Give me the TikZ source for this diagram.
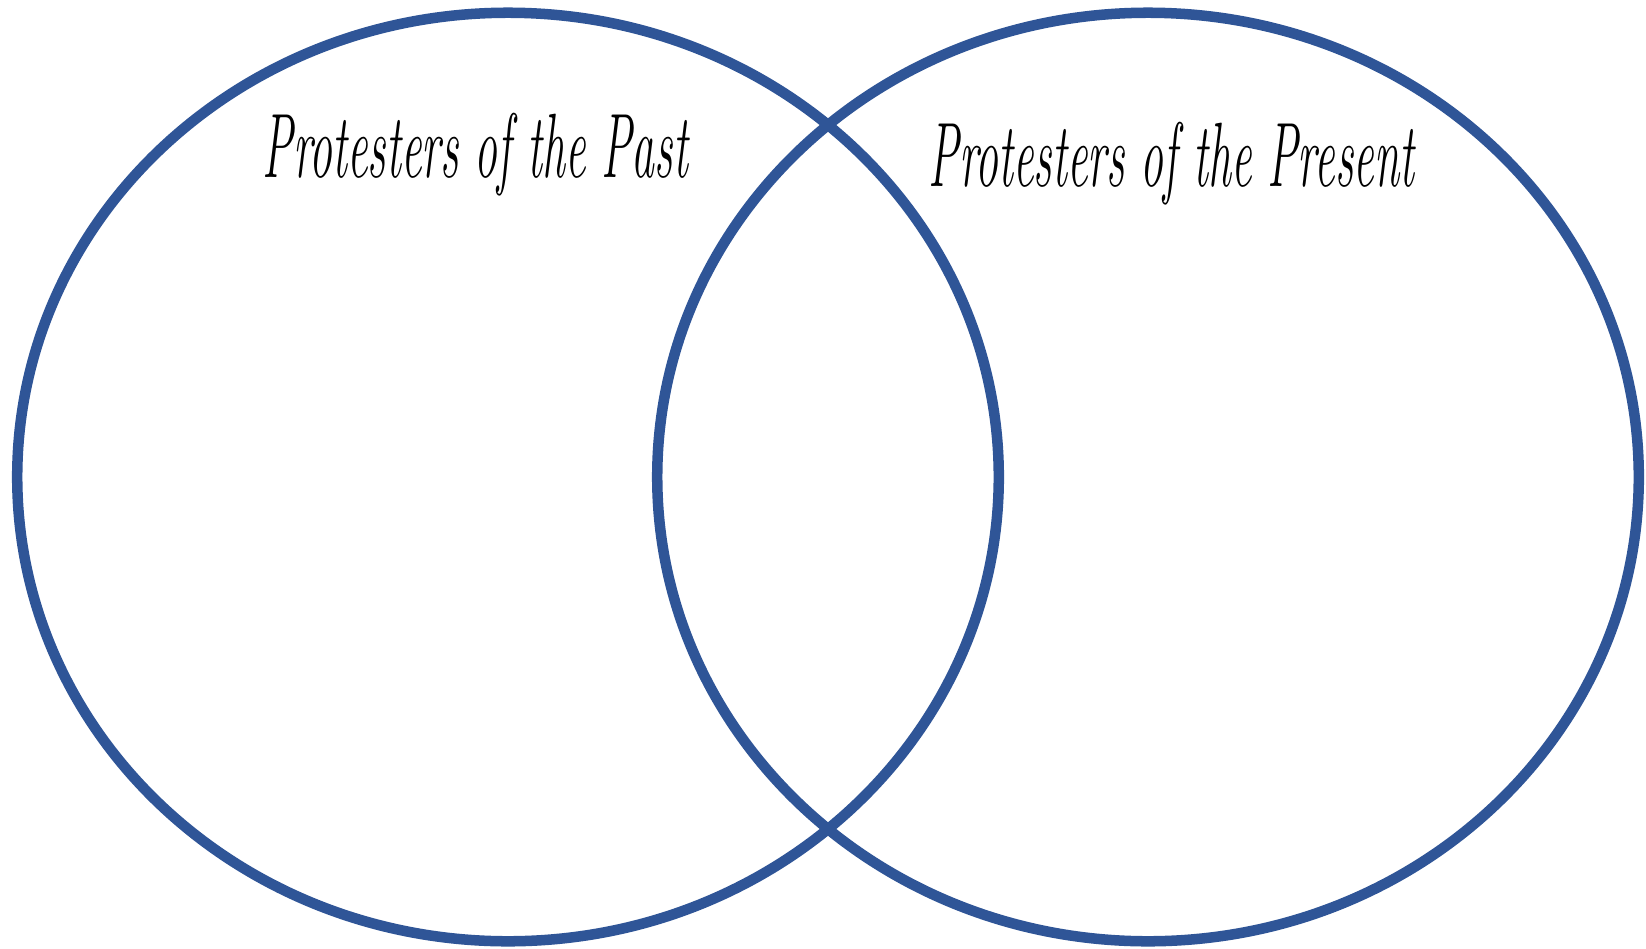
\documentclass[tikz,border=0pt]{standalone}
\usepackage{graphicx}
\usepackage{tikz}
\usetikzlibrary{positioning,shapes.geometric}
\usepackage{xcolor}
\definecolor{vennblue}{RGB}{47,85,151}

\tikzset{
  vennset/.style={ellipse,draw=vennblue,line width=2.99pt,minimum width=9.81cm,minimum height=9.28cm,inner sep=0pt},
  venntitle/.style={font=\fontsize{26}{30}\selectfont\itshape,text=black,inner sep=0pt,anchor=base west}
}
\newcommand{\narrowtitle}[1]{\scalebox{0.5}[1]{#1}}

\begin{document}
\begin{tikzpicture}[x=0.01cm,y=-0.01cm]
\useasboundingbox (0,0) rectangle (1646,948);
\node[vennset] (past) at (508,477) {};
\node[vennset] (present) at (1148,477) {};
\node[venntitle] (pasttitle) at (262,177) {\narrowtitle{Protesters of the Past}};
\node[venntitle] (presenttitle) at (928,186) {\narrowtitle{Protesters of the Present}};
\end{tikzpicture}
\end{document}
